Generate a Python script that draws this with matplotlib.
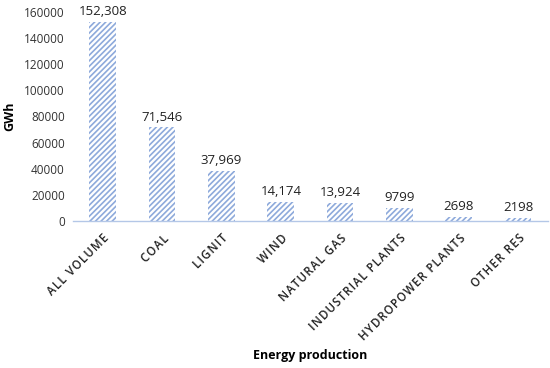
import matplotlib
matplotlib.use("Agg")
import matplotlib.pyplot as plt

categories = ["ALL VOLUME", "COAL", "LIGNIT", "WIND", "NATURAL GAS",
              "INDUSTRIAL PLANTS", "HYDROPOWER PLANTS", "OTHER RES"]
values = [152308, 71546, 37969, 14174, 13924, 9799, 2698, 2198]
labels = ["152,308", "71,546", "37,969", "14,174", "13,924", "9799", "2698", "2198"]
yticks = [0, 20000, 40000, 60000, 80000, 100000, 120000, 140000, 160000]

plt.rcParams['font.family'] = ['Open Sans', 'DejaVu Sans']
plt.rcParams['hatch.linewidth'] = 1.2

fig = plt.figure(figsize=(5.5, 3.68), dpi=100)
ax = fig.add_axes([0.133, 0.40, 0.863, 0.567])

x = list(range(len(categories)))
ax.bar(x, values, width=0.45, color="white", edgecolor="#8eaadb",
       hatch="//////", linewidth=0)
for xi, v, lab in zip(x, values, labels):
    ax.text(xi, v + 3000, lab, ha="center", va="bottom", fontsize=9.5, color="#222222")


def spaced(s):
    return "\u200a".join(s)


ax.set_xlim(-0.5, len(categories) - 0.5)
ax.set_ylim(0, 160000)
ax.set_yticks(yticks)
ax.set_yticklabels([str(t) for t in yticks], fontsize=8.5, color="#333333")
ax.set_xticks(x)
ax.set_xticklabels([spaced(c) for c in categories], rotation=45, ha="right",
                   rotation_mode="anchor", fontsize=8.3, color="#222222")
for t in ax.get_xticklabels():
    t.set_fontweight("semibold")
ax.tick_params(axis="both", length=0, pad=6)
ax.tick_params(axis="x", pad=8)

for s in ["top", "right", "left"]:
    ax.spines[s].set_visible(False)
ax.spines["bottom"].set_color("#b4c7e7")
ax.spines["bottom"].set_linewidth(1)

ax.set_ylabel("GWh", fontsize=9, fontweight="bold", labelpad=6)
fig.text(310 / 550, 1 - 355 / 368, "Energy production", ha="center", va="center",
         fontsize=9, fontweight="bold")

fig.savefig("out.png", dpi=100)
